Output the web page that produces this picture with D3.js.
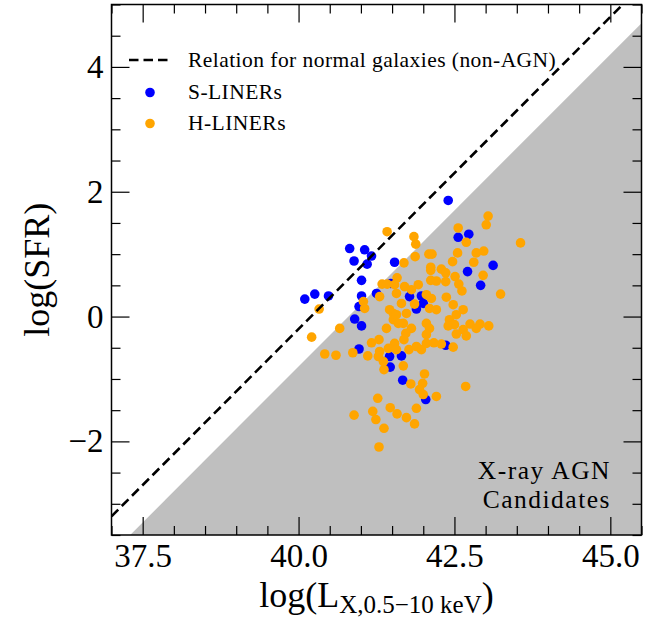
<!DOCTYPE html>
<html>
<head>
<meta charset="utf-8">
<script src="https://cdn.jsdelivr.net/npm/d3@7"></script>
<style>
  body { margin: 0; background: #fff; }
  svg { display: block; }
  text { font-family: "Liberation Serif", "Times New Roman", serif; fill: #000; }
</style>
</head>
<body>
<div id="chart"></div>
<script>
// Chart size and the plotting box
const width = 654,
  height = 620;
const margin = { top: 4.5, right: 12.5, bottom: 85, left: 111.5 };

// S-LINERs: log Lx (0.5-10 keV) and log SFR
const sLinerLx = [42.40, 42.73, 42.56, 40.82, 41.06, 41.17, 40.89, 41.10, 41.54, 43.12,
  42.71, 41.01, 42.92, 40.10, 40.26, 40.48, 41.01, 41.25, 41.48, 41.78,
  41.97, 42.00, 41.89, 40.97, 40.90, 41.01, 40.97, 41.46, 41.65, 41.47,
  41.67, 42.04, 42.36];
const sLinerSfr = [1.86, 1.32, 1.27, 1.09, 1.07, 0.97, 0.89, 0.84, 0.87, 0.82,
  0.72, 0.58, 0.50, 0.28, 0.36, 0.33, 0.33, 0.37, 0.53, 0.32,
  0.33, 0.21, 0.12, 0.16, -0.04, -0.15, -0.52, -0.64, -0.63, -0.81,
  -1.02, -1.33, -0.46];

// H-LINERs
const hLinerLx = [41.42, 42.56, 43.04, 43.01, 43.56, 41.85, 41.88, 42.69, 42.09, 42.14,
  41.87, 42.55, 42.85, 42.97, 41.69, 42.47, 42.81, 42.12, 42.12, 42.29,
  42.36, 42.51, 42.96, 41.58, 42.12, 42.21, 42.36, 42.57, 42.62, 43.24,
  41.34, 41.42, 41.70, 41.92, 41.54, 41.81, 41.57, 42.05, 42.37, 41.30,
  40.33, 41.04, 41.06, 41.65, 42.13, 42.10, 41.52, 41.73, 41.52, 41.68,
  42.05, 42.21, 42.42, 42.53, 42.64, 41.41, 41.81, 42.10, 42.50, 41.46,
  41.57, 40.21, 40.66, 40.42, 40.60, 40.87, 41.11, 41.17, 41.29, 41.60,
  41.86, 42.48, 42.40, 42.75, 42.91, 43.05, 42.85, 42.64, 42.53, 42.69,
  42.05, 41.72, 41.69, 41.54, 41.44, 41.30, 41.28, 41.36, 41.37, 41.57,
  41.77, 41.89, 41.97, 42.05, 42.17, 42.29, 42.48, 41.68, 42.02, 41.80,
  41.99, 41.94, 42.00, 42.21, 42.68, 41.27, 40.89, 41.19, 41.24, 41.47,
  41.58, 41.73, 41.89, 41.86, 41.37, 41.29];
const hLinerSfr = [1.36, 1.42, 1.61, 1.47, 1.18, 1.28, 1.16, 1.19, 1.00, 1.00,
  0.96, 1.02, 1.02, 1.05, 0.86, 0.88, 0.87, 0.79, 0.74, 0.76,
  0.70, 0.64, 0.66, 0.62, 0.58, 0.57, 0.56, 0.52, 0.41, 0.36,
  0.52, 0.52, 0.48, 0.51, 0.51, 0.43, 0.37, 0.35, 0.31, 0.32,
  0.12, 0.24, 0.13, 0.21, 0.29, 0.13, 0.05, 0.05, -0.05, -0.11,
  -0.11, 0.11, -0.05, 0.03, 0.11, -0.19, -0.19, -0.19, -0.13, 0.11,
  0.03, -0.33, -0.19, -0.60, -0.62, -0.58, -0.63, -0.42, -0.37, -0.11,
  0.20, 0.19, -0.15, -0.12, -0.12, -0.15, -0.19, -0.21, -0.28, -0.31,
  -0.29, -0.27, -0.37, -0.43, -0.51, -0.56, -0.64, -0.72, -0.85, -0.53,
  -0.53, -0.48, -0.53, -0.43, -0.42, -0.44, -0.49, -0.79, -0.92, -1.08,
  -1.07, -1.17, -1.25, -1.28, -1.12, -1.31, -1.58, -1.52, -1.65, -1.46,
  -1.56, -1.62, -1.47, -1.72, -1.79, -2.09];

// axis limits and ticks
const xDomain = [37, 45.5],
  yDomain = [-3.5, 5];
const xMajor = [37.5, 40, 42.5, 45],
  yMajor = [-2, 0, 2, 4];
// normal galaxies: log SFR = log Lx - normalOffset, AGN area below log Lx - agnOffset
const normalOffset = 40.2,
  agnOffset = 40.8;

const svg = d3.select("#chart")
  .append("svg")
  .attr("width", width)
  .attr("height", height);

const x = d3.scaleLinear().domain(xDomain).range([margin.left, width - margin.right]);
const y = d3.scaleLinear().domain(yDomain).range([height - margin.bottom, margin.top]);

svg.append("clipPath").attr("id", "plot-clip")
  .append("rect")
  .attr("x", margin.left).attr("y", margin.top)
  .attr("width", x.range()[1] - x.range()[0])
  .attr("height", y.range()[0] - y.range()[1]);

const plot = svg.append("g").attr("clip-path", "url(#plot-clip)");

// grey X-ray AGN candidates region
const agnArea = [
  [yDomain[0] + agnOffset, yDomain[0]],
  [xDomain[1], xDomain[1] - agnOffset],
  [xDomain[1], yDomain[0]]
];
plot.append("path")
  .attr("d", d3.line().x(d => x(d[0])).y(d => y(d[1]))(agnArea) + "Z")
  .attr("fill", "#bfbfbf");

// scatter points: S-LINERs first, H-LINERs on top
const sData = sLinerLx.map((v, i) => [v, sLinerSfr[i]]);
const hData = hLinerLx.map((v, i) => [v, hLinerSfr[i]]);

plot.selectAll(".s-liner")
  .data(sData)
  .join("circle")
  .attr("class", "s-liner")
  .attr("cx", d => x(d[0]))
  .attr("cy", d => y(d[1]))
  .attr("r", 4.8)
  .attr("fill", "#0000ff");

plot.selectAll(".h-liner")
  .data(hData)
  .join("circle")
  .attr("class", "h-liner")
  .attr("cx", d => x(d[0]))
  .attr("cy", d => y(d[1]))
  .attr("r", 4.8)
  .attr("fill", "#ffa500");

// dashed relation for normal galaxies
const normalLine = [
  [xDomain[0], xDomain[0] - normalOffset],
  [yDomain[1] + normalOffset, yDomain[1]]
];
plot.append("path")
  .attr("d", d3.line().x(d => x(d[0])).y(d => y(d[1]))(normalLine))
  .attr("fill", "none")
  .attr("stroke", "#000")
  .attr("stroke-width", 2.6)
  .attr("stroke-dasharray", "9.5,5");

// ticks, pointing inwards on all four sides
const xMinor = d3.range(37, 45.51, 0.5).filter(v => !xMajor.includes(v));
const yMinor = d3.range(-3.5, 5.01, 0.5).filter(v => !yMajor.includes(v));
const bottomY = y.range()[0],
  topY = y.range()[1];
const leftX = x.range()[0],
  rightX = x.range()[1];

function styleAxis(g) {
  g.select(".domain").remove();
  g.attr("font-family", null);
  g.selectAll(".tick line").attr("stroke", "#000").attr("stroke-width", 1.2);
  g.selectAll(".tick text").style("font-size", "33px").attr("fill", "#000");
}

svg.append("g").attr("transform", `translate(0,${bottomY})`)
  .call(d3.axisBottom(x).tickValues(xMajor).tickSize(-18).tickPadding(8.5).tickFormat(d3.format(".1f")))
  .call(styleAxis);
svg.append("g").attr("transform", `translate(0,${bottomY})`)
  .call(d3.axisBottom(x).tickValues(xMinor).tickSize(-9).tickFormat(""))
  .call(styleAxis);
svg.append("g").attr("transform", `translate(0,${topY})`)
  .call(d3.axisTop(x).tickValues(xMajor).tickSize(-18).tickFormat(""))
  .call(styleAxis);
svg.append("g").attr("transform", `translate(0,${topY})`)
  .call(d3.axisTop(x).tickValues(xMinor).tickSize(-9).tickFormat(""))
  .call(styleAxis);

svg.append("g").attr("transform", `translate(${leftX},0)`)
  .call(d3.axisLeft(y).tickValues(yMajor).tickSize(-18).tickPadding(8))
  .call(styleAxis);
svg.append("g").attr("transform", `translate(${leftX},0)`)
  .call(d3.axisLeft(y).tickValues(yMinor).tickSize(-9).tickFormat(""))
  .call(styleAxis);
svg.append("g").attr("transform", `translate(${rightX},0)`)
  .call(d3.axisRight(y).tickValues(yMajor).tickSize(-18).tickFormat(""))
  .call(styleAxis);
svg.append("g").attr("transform", `translate(${rightX},0)`)
  .call(d3.axisRight(y).tickValues(yMinor).tickSize(-9).tickFormat(""))
  .call(styleAxis);

// frame
svg.append("rect")
  .attr("x", leftX).attr("y", topY)
  .attr("width", rightX - leftX).attr("height", bottomY - topY)
  .attr("fill", "none")
  .attr("stroke", "#000")
  .attr("stroke-width", 1.5);

// legend
const legend = svg.append("g").style("font-size", "21.5px").style("letter-spacing", "0.45px");
legend.append("line")
  .attr("x1", 129).attr("x2", 170)
  .attr("y1", 60).attr("y2", 60)
  .attr("stroke", "#000").attr("stroke-width", 2.6)
  .attr("stroke-dasharray", "9.5,5");
legend.append("text").attr("x", 188).attr("y", 67)
  .text("Relation for normal galaxies (non-AGN)");
legend.append("circle").attr("cx", 150).attr("cy", 92.5).attr("r", 4.8).attr("fill", "#0000ff");
legend.append("text").attr("x", 188).attr("y", 99).text("S-LINERs");
legend.append("circle").attr("cx", 150).attr("cy", 123.5).attr("r", 4.8).attr("fill", "#ffa500");
legend.append("text").attr("x", 188).attr("y", 130).text("H-LINERs");

// region label
const regionLabel = svg.append("g")
  .attr("text-anchor", "end")
  .style("font-size", "25.5px")
  .style("letter-spacing", "1.5px");
regionLabel.append("text").attr("x", 611).attr("y", 479).text("X-ray AGN");
regionLabel.append("text").attr("x", 611).attr("y", 508).text("Candidates");

// axis titles
const xTitle = svg.append("text")
  .attr("x", (leftX + rightX) / 2)
  .attr("y", 607)
  .attr("text-anchor", "middle")
  .style("font-size", "36px");
xTitle.append("tspan").text("log(L");
xTitle.append("tspan").attr("dy", 6).style("font-size", "25px").text("X,0.5\u221210 keV");
xTitle.append("tspan").attr("dy", -6).text(")");

svg.append("text")
  .attr("transform", `translate(49,${(topY + bottomY) / 2}) rotate(-90)`)
  .attr("text-anchor", "middle")
  .style("font-size", "36px")
  .text("log(SFR)");
</script>
</body>
</html>
